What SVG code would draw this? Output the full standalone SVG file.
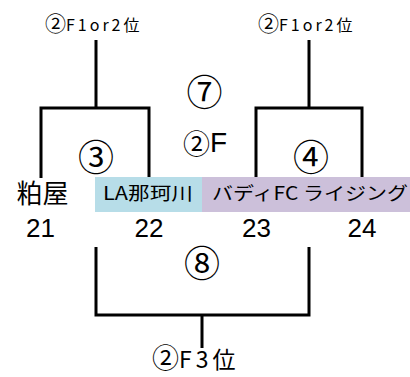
<svg xmlns="http://www.w3.org/2000/svg" width="410" height="377" viewBox="0 0 410 377">
<style>
.t{font-family:"Noto Sans CJK JP","Liberation Sans",sans-serif;fill:#000;text-anchor:middle}
.c{font-size:36px;dominant-baseline:central}
.n{font-family:"Liberation Sans","Noto Sans CJK JP",sans-serif;font-size:26px;text-anchor:middle}
.s{text-anchor:start}
.line{fill:none;stroke:#000;stroke-width:3;stroke-linecap:butt;stroke-linejoin:miter}
</style>
<rect width="410" height="377" fill="#fff"/>
<g id="connectors">
<path class="line" d="M96,40V108M41,178V108H149V178"/>
<path class="line" d="M309,40V108M256,178V108H362V178"/>
<path class="line" d="M96,247V315H309V247M202,315V348"/>
</g>
<g id="team-kasuya">
<text class="t" x="42.5" y="203" font-size="26">粕屋</text>
<text class="n" x="40.5" y="237">21</text>
</g>
<g id="team-la-nakagawa">
<rect x="95" y="177" width="107" height="35" fill="#b7dde8"/>
<text class="t" x="148" y="200" font-size="18" textLength="90" lengthAdjust="spacingAndGlyphs">LA那珂川</text>
<text class="n" x="149" y="237">22</text>
</g>
<g id="team-buddy">
<rect x="202" y="177" width="208" height="35" fill="#ccc0da"/>
<text class="t" x="310" y="200" font-size="18" textLength="196" lengthAdjust="spacingAndGlyphs">バディFC ライジング</text>
<text class="n" x="256.5" y="237">23</text>
<text class="n" x="362" y="237">24</text>
</g>
<g id="match-3"><text class="t c" x="96" y="155">③</text></g>
<g id="match-4"><text class="t c" x="311" y="155">④</text></g>
<g id="match-7"><text class="t c" x="204.5" y="90">⑦</text></g>
<g id="venue-2f"><text class="t s" y="141.5" font-size="27" dominant-baseline="central"><tspan x="183">②</tspan><tspan x="210" font-family="Liberation Sans" font-size="28">F</tspan></text></g>
<g id="match-8"><text class="t c" x="202" y="260.5">⑧</text></g>
<g id="winner-left"><text class="t s" x="45" y="31" font-size="16"><tspan font-size="21">②</tspan><tspan letter-spacing="3">F1or2</tspan>位</text></g>
<g id="winner-right"><text class="t s" x="258" y="31" font-size="16"><tspan font-size="21">②</tspan><tspan letter-spacing="3">F1or2</tspan>位</text></g>
<g id="third-place"><text class="t s" x="152" y="368" font-size="23"><tspan font-size="27">②</tspan><tspan letter-spacing="4">F3</tspan>位</text></g>
</svg>
